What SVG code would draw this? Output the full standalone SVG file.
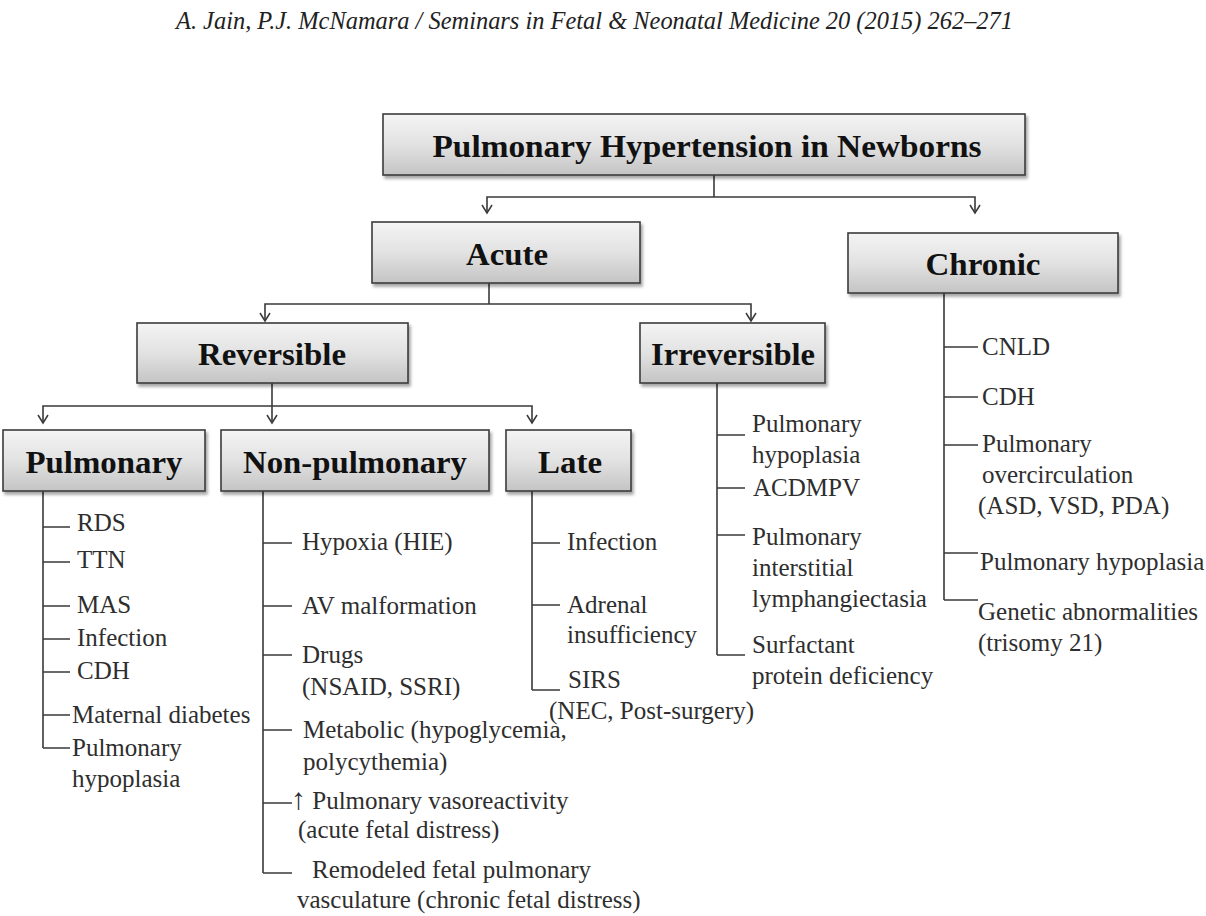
<svg xmlns="http://www.w3.org/2000/svg" width="1206" height="916" viewBox="0 0 1206 916">
<defs>
<linearGradient id="boxg" x1="0" y1="0" x2="0" y2="1">
<stop offset="0" stop-color="#f4f4f4"/>
<stop offset="0.5" stop-color="#e2e2e2"/>
<stop offset="1" stop-color="#c4c4c4"/>
</linearGradient>
<filter id="sh" x="-5%" y="-5%" width="115%" height="130%">
<feDropShadow dx="2" dy="3" stdDeviation="1.5" flood-color="#000" flood-opacity="0.35"/>
</filter>
<marker id="arr" viewBox="-10 -6 12 12" markerWidth="12" markerHeight="12" refX="0" refY="0" orient="auto" markerUnits="userSpaceOnUse">
<path d="M-8,-5 L0,0 L-8,5" fill="none" stroke="#3a3a3a" stroke-width="1.5"/>
</marker>
</defs>
<style>
.box{fill:url(#boxg);stroke:#3c3c3c;stroke-width:1.6;filter:url(#sh)}
.lbl{font-family:"Liberation Serif","Times New Roman",serif;font-weight:bold;font-size:32px;fill:#111;text-anchor:middle}
.it{font-family:"Liberation Serif","Times New Roman",serif;font-size:25px;fill:#2e2e2e}
.ln{fill:none;stroke:#3a3a3a;stroke-width:1.6}
.hdr{font-family:"Liberation Serif","Times New Roman",serif;font-style:italic;font-size:25px;fill:#222}
</style>
<rect width="1206" height="916" fill="#fff"/>
<text class="hdr" x="176" y="29" textLength="837" lengthAdjust="spacingAndGlyphs">A. Jain, P.J. McNamara / Seminars in Fetal &amp; Neonatal Medicine 20 (2015) 262–271</text>

<g id="connectors">
<path class="ln" d="M714,175 V197"/>
<path class="ln" d="M714,197 H487 V213" marker-end="url(#arr)"/>
<path class="ln" d="M714,197 H975 V213" marker-end="url(#arr)"/>
<path class="ln" d="M489,283 V304"/>
<path class="ln" d="M489,304 H265 V321" marker-end="url(#arr)"/>
<path class="ln" d="M489,304 H751 V321" marker-end="url(#arr)"/>
<path class="ln" d="M272,383 V423" marker-end="url(#arr)"/>
<path class="ln" d="M272,406 H43 V423" marker-end="url(#arr)"/>
<path class="ln" d="M272,406 H532 V423" marker-end="url(#arr)"/>
<path class="ln" d="M43,491 V748 M43,527 H70 M43,562 H70 M43,606 H70 M43,639 H70 M43,672 H70 M43,715 H70 M43,748 H70"/>
<path class="ln" d="M263,491 V873 M263,543 H292 M263,606 H292 M263,655 H292 M263,730 H292 M263,803 H292 M263,873 H292"/>
<path class="ln" d="M532,491 V690 M532,543 H560 M532,605 H560 M532,690 H560"/>
<path class="ln" d="M717,383 V655 M717,435 H745 M717,488 H745 M717,535 H745 M717,655 H745"/>
<path class="ln" d="M944,293 V600 M944,347 H978 M944,397 H978 M944,445 H978 M944,553 H978 M944,600 H978"/>
</g>

<g id="node-title">
<rect class="box" x="383" y="114" width="642" height="61"/>
<text class="lbl" x="707" y="157" textLength="549" lengthAdjust="spacingAndGlyphs">Pulmonary Hypertension in Newborns</text>
</g>
<g id="node-acute">
<rect class="box" x="372" y="222" width="268" height="61"/>
<text class="lbl" x="507" y="265" textLength="82" lengthAdjust="spacingAndGlyphs">Acute</text>
</g>
<g id="node-chronic">
<rect class="box" x="848" y="233" width="270" height="60"/>
<text class="lbl" x="983" y="275" textLength="115" lengthAdjust="spacingAndGlyphs">Chronic</text>
</g>
<g id="node-reversible">
<rect class="box" x="137" y="323" width="271" height="60"/>
<text class="lbl" x="272" y="365" textLength="148" lengthAdjust="spacingAndGlyphs">Reversible</text>
</g>
<g id="node-irreversible">
<rect class="box" x="640" y="323" width="185" height="60"/>
<text class="lbl" x="733" y="365" textLength="164" lengthAdjust="spacingAndGlyphs">Irreversible</text>
</g>
<g id="node-pulmonary">
<rect class="box" x="3" y="430" width="202" height="61"/>
<text class="lbl" x="104" y="473" textLength="157" lengthAdjust="spacingAndGlyphs">Pulmonary</text>
</g>
<g id="node-nonpulmonary">
<rect class="box" x="221" y="430" width="268" height="61"/>
<text class="lbl" x="355" y="473" textLength="224" lengthAdjust="spacingAndGlyphs">Non-pulmonary</text>
</g>
<g id="node-late">
<rect class="box" x="506" y="430" width="125" height="61"/>
<text class="lbl" x="570" y="473" textLength="64" lengthAdjust="spacingAndGlyphs">Late</text>
</g>

<g id="list-pulmonary">
<text class="it" x="77" y="531">RDS</text>
<text class="it" x="77" y="568">TTN</text>
<text class="it" x="77" y="613">MAS</text>
<text class="it" x="77" y="646">Infection</text>
<text class="it" x="77" y="679">CDH</text>
<text class="it" x="72" y="723">Maternal diabetes</text>
<text class="it" x="72" y="756">Pulmonary</text>
<text class="it" x="72" y="787">hypoplasia</text>
</g>
<g id="list-nonpulmonary">
<text class="it" x="302" y="550">Hypoxia (HIE)</text>
<text class="it" x="302" y="614">AV malformation</text>
<text class="it" x="302" y="663">Drugs</text>
<text class="it" x="302" y="695">(NSAID, SSRI)</text>
<text class="it" x="303" y="738">Metabolic (hypoglycemia,</text>
<text class="it" x="303" y="770">polycythemia)</text>
<text class="it" x="291" y="809"><tspan font-size="30">↑</tspan> Pulmonary vasoreactivity</text>
<text class="it" x="298" y="838">(acute fetal distress)</text>
<text class="it" x="312" y="878">Remodeled fetal pulmonary</text>
<text class="it" x="297" y="908">vasculature (chronic fetal distress)</text>
</g>
<g id="list-late">
<text class="it" x="567" y="550">Infection</text>
<text class="it" x="567" y="613">Adrenal</text>
<text class="it" x="567" y="643">insufficiency</text>
<text class="it" x="568" y="688">SIRS</text>
<text class="it" x="549" y="719">(NEC, Post-surgery)</text>
</g>
<g id="list-irreversible">
<text class="it" x="752" y="432">Pulmonary</text>
<text class="it" x="752" y="463">hypoplasia</text>
<text class="it" x="753" y="496">ACDMPV</text>
<text class="it" x="752" y="545">Pulmonary</text>
<text class="it" x="752" y="576">interstitial</text>
<text class="it" x="752" y="607">lymphangiectasia</text>
<text class="it" x="752" y="653">Surfactant</text>
<text class="it" x="752" y="684">protein deficiency</text>
</g>
<g id="list-chronic">
<text class="it" x="982" y="355">CNLD</text>
<text class="it" x="982" y="405">CDH</text>
<text class="it" x="982" y="452">Pulmonary</text>
<text class="it" x="982" y="483">overcirculation</text>
<text class="it" x="978" y="514">(ASD, VSD, PDA)</text>
<text class="it" x="980" y="570">Pulmonary hypoplasia</text>
<text class="it" x="978" y="620">Genetic abnormalities</text>
<text class="it" x="978" y="651">(trisomy 21)</text>
</g>
</svg>
